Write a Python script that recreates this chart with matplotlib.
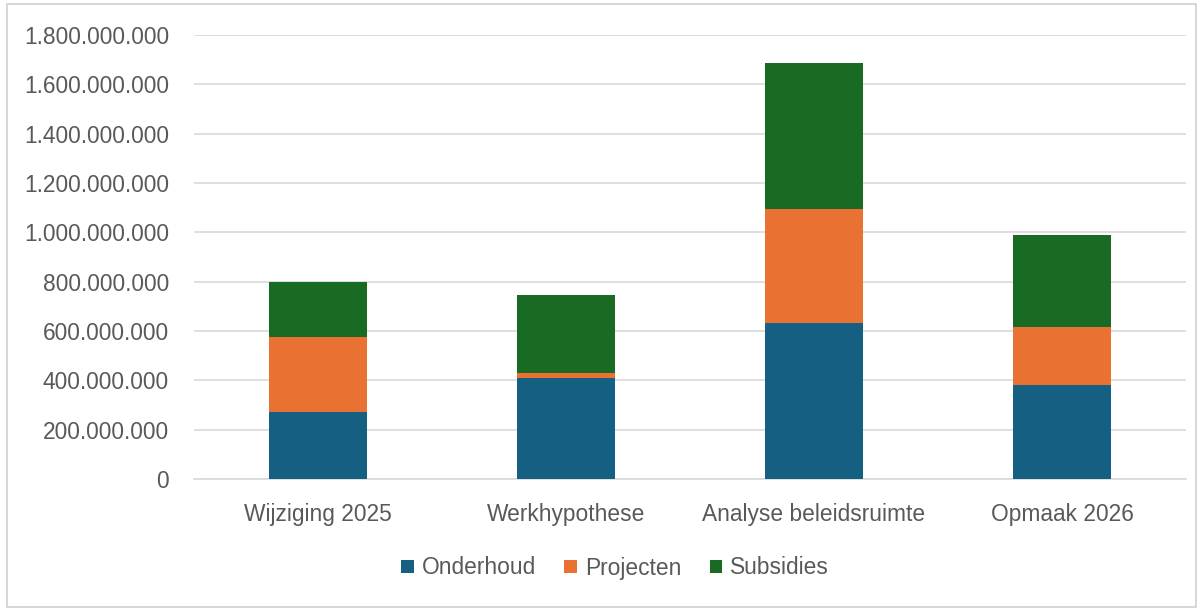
import matplotlib
matplotlib.use("Agg")
import matplotlib.pyplot as plt
from matplotlib.patches import Rectangle
from matplotlib.ticker import FuncFormatter
import numpy as np

categories = ["Wijziging 2025", "Werkhypothese", "Analyse beleidsruimte", "Opmaak 2026"]
onderhoud = [270e6, 410e6, 634e6, 381e6]
projecten = [305e6, 18e6, 462e6, 236e6]
subsidies = [222e6, 318e6, 589e6, 372e6]
series_names = ["Onderhoud", "Projecten", "Subsidies"]
colors = ["#156082", "#E97132", "#196B24"]

plt.rcParams['font.family'] = ['Liberation Sans', 'DejaVu Sans']
txt = "#595959"
fs = 16.4

fig = plt.figure(figsize=(12.02, 6.11), dpi=100)
ax = fig.add_axes([194/1202, 1-479/611, 992/1202, (479-35)/611])

x = np.arange(len(categories))
bottom = np.zeros(len(categories))
for vals, name, c in zip([onderhoud, projecten, subsidies], series_names, colors):
    ax.bar(x, vals, width=0.395, bottom=bottom, color=c, label=name, zorder=3)
    bottom += np.array(vals)

ax.set_xlim(-0.5, len(categories)-0.5)
ax.set_ylim(0, 1.8e9)
ax.set_yticks(np.arange(0, 1.8e9+1, 2e8))

def fmt(v, pos):
    return f"{int(round(v)):,}".replace(",", ".")
ax.yaxis.set_major_formatter(FuncFormatter(fmt))
ax.set_xticks(x)
ax.set_xticklabels(categories)
ax.tick_params(axis='both', length=0, labelsize=fs, colors=txt)
ax.tick_params(axis='y', pad=18)
ax.tick_params(axis='x', pad=17)
ax.grid(axis='y', color="#D9D9D9", linewidth=1.2, zorder=0)
for s in ['top', 'right', 'left']:
    ax.spines[s].set_visible(False)
ax.spines['bottom'].set_color("#D9D9D9")
ax.spines['bottom'].set_linewidth(1.2)

leg = fig.legend(loc='center', bbox_to_anchor=(615/1202, 1-568/611), ncol=3,
                 frameon=False, fontsize=fs, handlelength=0.55, handleheight=0.55,
                 handletextpad=0.35, columnspacing=1.25, labelcolor=txt)

fig.patches.append(Rectangle((7/1202, 4/611), 1189/1202, 603/611, transform=fig.transFigure,
                             fill=False, edgecolor="#D0D0D0", linewidth=1.2))

fig.savefig("out.png", dpi=100)
